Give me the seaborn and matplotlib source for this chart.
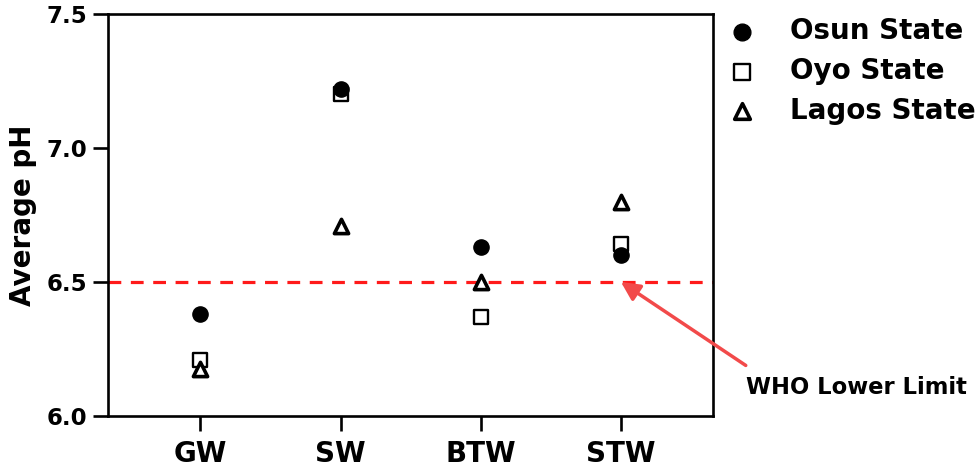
import matplotlib
matplotlib.use('Agg')
import matplotlib.pyplot as plt
import seaborn as sns
import pandas as pd

# Dados
locais = ['GW', 'SW', 'BTW', 'STW']
osun = [6.38, 7.22, 6.63, 6.60]
oyo = [6.21, 7.20, 6.37, 6.64]
lagos = [6.175, 6.71, 6.50, 6.80]
limite_who = 6.5

estados = ['Osun State', 'Oyo State', 'Lagos State']

dt = pd.DataFrame({
    'local': locais * 3,
    'estado': [e for e in estados for _ in locais],
    'ph': osun + oyo + lagos,
})

sns.set_style('ticks')
plt.rcParams['font.family'] = ['DejaVu Sans']
plt.rcParams['font.weight'] = 'bold'
plt.rcParams['text.color'] = 'black'
plt.rcParams['axes.labelcolor'] = 'black'

fig = plt.figure(figsize=(9.8, 4.71), dpi=100)
ax = fig.add_axes([0.110, 0.117, 0.618, 0.853])

# estilo de cada marcador
estilo = {
    'Osun State': dict(marker='o', facecolor='black', edgecolor='black', linewidth=1.0, s=120, zorder=4),
    'Oyo State': dict(marker='s', facecolor='white', edgecolor='black', linewidth=1.7, s=115, zorder=3),
    'Lagos State': dict(marker='^', facecolor='white', edgecolor='black', linewidth=2.6, s=105, zorder=5),
}

for estado in estados:
    sub = dt[dt['estado'] == estado]
    sns.scatterplot(data=sub, x='local', y='ph', ax=ax, label=estado, **estilo[estado])

# linha do limite inferior da OMS
ax.axhline(limite_who, color='#ff1a1a', linestyle=(0, (4, 3)), linewidth=2.3, zorder=2)

ax.set_xlim(-0.66, 3.66)
ax.set_ylim(6.0, 7.5)
ax.set_yticks([6.0, 6.5, 7.0, 7.5])
ax.set_yticklabels(['6.0', '6.5', '7.0', '7.5'])
ax.set_xlabel('')
ax.set_ylabel('Average pH', fontsize=20, fontweight='bold', labelpad=7, color='black')

for sp in ax.spines.values():
    sp.set_linewidth(1.9)
    sp.set_color('black')
ax.tick_params(axis='both', length=11, width=1.9, colors='black')
ax.tick_params(axis='y', labelsize=16.5)
ax.tick_params(axis='x', labelsize=20, pad=6)
for t in ax.get_xticklabels() + ax.get_yticklabels():
    t.set_fontweight('bold')

# anotação com seta
ax.annotate('WHO Lower Limit', xy=(3, limite_who), xycoords='data',
            xytext=(0.8735, 0.178), textcoords='figure fraction',
            ha='center', va='center', fontsize=16.3, fontweight='bold',
            color='black', annotation_clip=False,
            arrowprops=dict(arrowstyle='-|>', color='#f24a4a', lw=2.5,
                            mutation_scale=28, shrinkA=9, shrinkB=0,
                            relpos=(0.07, 1.0)))

# legenda
ax.get_legend().remove()
h, l = ax.get_legend_handles_labels()
fig.legend(h, l, loc='upper left', bbox_to_anchor=(0.737, 0.975), frameon=False,
           prop={'size': 20, 'weight': 'bold'}, handlelength=1.0, handletextpad=1.25,
           labelspacing=0.42, borderaxespad=0.0, borderpad=0.2, markerscale=1.1)

fig.savefig('out.png', dpi=100)
